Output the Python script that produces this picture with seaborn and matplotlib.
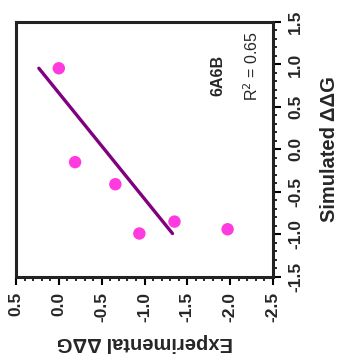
import numpy as np
import pandas as pd
import matplotlib
matplotlib.use("Agg")
import matplotlib.pyplot as plt
from matplotlib.ticker import MultipleLocator
import seaborn as sns

# Data (Experimental vs Simulated ΔΔG, 6A6B)
experimental = [0.0, -0.19, -0.66, -0.94, -1.35, -1.97]
simulated = [0.955, -0.15, -0.41, -0.99, -0.85, -0.94]
x_ticks = [0.5, 0.0, -0.5, -1.0, -1.5, -2.0, -2.5]
y_ticks = [-1.5, -1.0, -0.5, 0.0, 0.5, 1.0, 1.5]
label_name = "6A6B"

sns.set_theme(style="white")
plt.rcParams['font.family'] = ['Liberation Sans', 'DejaVu Sans']

df = pd.DataFrame({"exp": experimental, "sim": simulated})

# Regression of experimental on simulated
b, a = np.polyfit(df["sim"], df["exp"], 1)
r2 = np.corrcoef(df["sim"], df["exp"])[0, 1] ** 2
sim_line = np.array([df["sim"].min(), df["sim"].max()])
fit = pd.DataFrame({"sim": sim_line, "exp": a + b * sim_line})

fig = plt.figure(figsize=(3.4, 3.6), dpi=100)
ax = fig.add_axes([0.047, 0.231, 0.756, 0.708])

sns.lineplot(data=fit, x="exp", y="sim", sort=False, color="#800080",
             linewidth=2.4, ax=ax)
sns.scatterplot(data=df, x="exp", y="sim", color="#FF3ADF", s=80,
                edgecolor="none", ax=ax, zorder=3)

ax.set_xlim(0.5, -2.5)
ax.set_ylim(-1.5, 1.5)
ax.set_xticks(x_ticks)
ax.set_yticks(y_ticks)
ax.set_xticklabels([f"{v:.1f}" for v in x_ticks], rotation=90,
                   fontsize=12.5, fontweight="bold")
ax.set_yticklabels([f"{v:.1f}" for v in y_ticks], rotation=90,
                   fontsize=12.5, va="center", fontweight="bold")
ax.xaxis.set_minor_locator(MultipleLocator(0.1))
ax.yaxis.set_minor_locator(MultipleLocator(0.1))
ax.yaxis.tick_right()
ax.yaxis.set_label_position("right")
ax.tick_params(which="major", direction="out", length=6, width=1.5,
               color="black", bottom=True, right=True, left=False, top=False,
               pad=5)
ax.tick_params(which="minor", direction="out", length=3, width=1.2,
               color="black", bottom=True, right=True, left=False, top=False)

for side in ["left", "top", "right", "bottom"]:
    ax.spines[side].set_visible(True)
    ax.spines[side].set_color("#222222")
    ax.spines[side].set_linewidth(2.2)

ax.set_xlabel("Experimental ΔΔG", rotation=180, fontsize=14.5,
              fontweight="bold", labelpad=8)
ax.set_ylabel("Simulated ΔΔG", rotation=90, fontsize=14.5,
              fontweight="bold", labelpad=12)

ax.text(-1.86, 0.876, label_name, rotation=90, ha="center", va="center",
        fontsize=11.5, fontweight="bold")
ax.text(-2.255, 0.98, f"R$^2$ = {r2:.2f}", rotation=90, ha="center",
        va="center", fontsize=11.5)

fig.savefig("out.png", dpi=100)
